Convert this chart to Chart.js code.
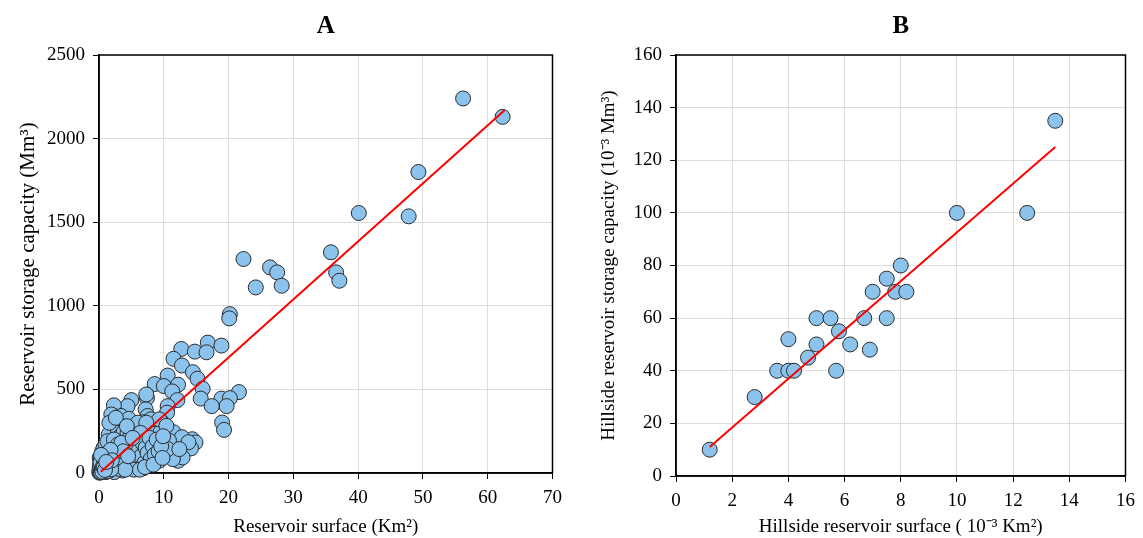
<!DOCTYPE html>
<html>
<head>
<meta charset="utf-8">
<script src="https://cdn.jsdelivr.net/npm/chart.js@4"></script>
<style>
  body { margin: 0; background: #fff; width: 1143px; height: 538px; position: relative; overflow: hidden; }
  canvas { position: absolute; top: 0; }
  #chartA { left: 0; }
  #chartB { left: 580px; }
</style>
</head>
<body>
<canvas id="chartA" width="570" height="538"></canvas>
<canvas id="chartB" width="563" height="538"></canvas>
<script>
// Panel A : reservoirs (surface Km², capacity Mm³)
const surfaceA = [
  56.2, 62.3, 49.3, 40.1, 47.8, 35.8, 36.6, 37.1, 22.3, 26.4, 27.5, 24.2, 28.2, 20.2, 20.1,
  16.8, 18.9, 12.7, 14.8, 16.6, 11.5, 12.8, 14.5, 15.2, 10.6, 16.0, 15.7, 21.6, 18.9, 20.2,
  19.7, 17.4, 8.6, 10.0, 12.2, 11.3, 12.1, 7.4, 5.0, 4.4, 2.3, 10.6, 10.5, 7.2, 7.5,
  3.4, 19.0, 19.3, 14.4, 14.9, 14.2, 12.2, 12.5, 6.8, 9.5, 2.1, 3.6, 4.6, 5.9, 6.9,
  8.5, 9.7, 10.3, 11.5, 12.8, 13.8, 11.0, 6.7, 8.2, 9.5, 5.6, 7.7, 9.0, 10.8, 12.9,
  11.4, 9.3, 5.2, 3.4, 10.6, 12.4, 7.3, 8.0, 9.3, 10.4, 6.0, 7.3,
  0.1, 0.2, 0.3, 0.4, 0.5, 0.6, 0.7, 0.8, 0.9, 0.2, 0.4, 0.6, 0.8, 1.0, 0.3, 0.5, 0.7, 0.9, 0.15, 0.35,
  1.1, 1.2, 1.3, 1.4, 1.5, 1.6, 1.7, 1.8, 1.9, 1.2, 1.4, 1.6, 1.8, 2.0, 1.1, 1.5, 1.3, 1.7,
  2.1, 2.2, 2.3, 2.4, 2.5, 2.6, 2.7, 2.8, 2.9, 3.0, 2.2, 2.5, 2.8, 2.4,
  3.1, 3.2, 3.3, 3.4, 3.5, 3.6, 3.7, 3.8, 3.9, 4.0, 3.3, 3.6,
  4.1, 4.2, 4.3, 4.4, 4.5, 4.6, 4.7, 4.8, 4.9, 5.0,
  5.1, 5.3, 5.5, 5.6, 5.8, 6.0, 5.4, 5.9,
  6.2, 6.4, 6.5, 6.7, 7.0, 7.2, 7.5, 7.8, 8.0, 6.3, 7.1,
  8.3, 8.6, 8.9, 9.2, 9.6, 9.9, 8.4, 9.8,
  1.9, 1.6, 2.6, 4.3,
  0.05, 0.1, 0.12, 0.25, 0.3, 0.45, 0.55, 0.65, 0.75, 0.85, 0.95, 0.1, 0.2, 0.4, 0.6, 0.5, 0.3, 0.7,
  1.05, 1.15, 1.25, 1.35, 1.45, 1.55, 1.65, 1.75, 1.0, 1.2, 1.4, 1.1, 1.3,
  2.05, 2.15, 2.35, 2.45, 2.65, 2.75, 2.0, 2.3, 2.9, 3.05, 3.25, 3.45, 3.75, 4.05, 4.5, 5.2,
  0.08, 0.18, 0.28, 0.38, 0.48, 0.58, 0.68, 0.78, 0.88, 0.98, 0.22, 0.42, 0.62, 0.82, 1.02,
  1.08, 1.18, 1.28, 1.38, 1.48, 1.58, 1.68, 1.78, 1.88, 1.98, 0.32, 0.52, 0.72, 0.92, 1.12
];
const capacityA = [
  2240, 2130, 1800, 1555, 1535, 1320, 1200, 1150, 1280, 1230, 1200, 1110, 1120, 950, 925,
  780, 762, 742, 726, 722, 683, 643, 603, 564, 583, 504, 445, 484, 445, 448,
  400, 400, 532, 520, 528, 488, 436, 448, 436, 400, 405, 400, 361, 381, 341,
  341, 302, 258, 202, 183, 147, 73, 186, 28, 103, 344, 304, 324, 284, 304,
  294, 304, 264, 244, 214, 184, 164, 234, 234, 244, 244, 184, 194, 194, 93,
  83, 73, 24, 24, 143, 143, 470, 321, 321, 282, 301, 301,
  5, 12, 20, 8, 30, 15, 45, 25, 60, 40, 55, 80, 100, 10, 70, 95, 120, 35, 28, 48,
  50, 90, 140, 20, 70, 110, 160, 40, 200, 180, 125, 55, 85, 150, 15, 230, 105, 30,
  60, 120, 175, 30, 95, 210, 140, 50, 240, 110, 15, 160, 190, 80,
  70, 150, 220, 40, 125, 185, 90, 245, 160, 60, 105, 15,
  130, 200, 85, 240, 170, 45, 110, 215, 150, 75,
  190, 125, 230, 95, 160, 50, 20, 205,
  140, 240, 100, 180, 60, 150, 120, 210, 85, 20, 35,
  160, 110, 200, 130, 160, 220, 50, 90,
  350, 300, 330, 280,
  2, 18, 35, 3, 55, 22, 65, 10, 38, 75, 20, 90, 60, 110, 30, 130, 85, 150,
  5, 70, 30, 95, 45, 135, 80, 120, 170, 60, 25, 115, 190,
  40, 90, 5, 145, 70, 110, 30, 200, 170, 25, 95, 180, 130, 20, 100, 210,
  14, 42, 6, 68, 32, 88, 16, 52, 104, 26, 62, 24, 38, 72, 44,
  82, 36, 64, 118, 12, 98, 58, 138, 22, 76, 108, 8, 34, 18, 66
];
const fitA_x = [0.3, 62.6];
const fitA_y = [8, 2170];

// Panel B : hillside reservoirs (10⁻³ Km², 10⁻³ Mm³)
const surfaceB = [1.2, 2.8, 3.6, 4.0, 4.2, 4.0, 4.7, 5.0, 5.0, 5.5, 5.8, 5.7, 6.2, 6.9, 6.7, 7.0, 7.5, 7.5, 7.8, 8.0, 8.2, 10.0, 12.5, 13.5];
const capacityB = [10, 30, 40, 40, 40, 52, 45, 50, 60, 60, 55, 40, 50, 48, 60, 70, 60, 75, 70, 80, 70, 100, 100, 135];
const fitB_x = [1.2, 13.5];
const fitB_y = [11, 125];

const serif = 'Liberation Serif, Times New Roman, serif';
const pointFill = '#8CC3EC';
const pointEdge = '#2a2a2a';

// black frame round the plot area + panel letter centred over it
const framePlugin = {
  id: 'frame',
  beforeDatasetsDraw(chart) {
    const a = chart.chartArea, c = chart.ctx;
    c.save();
    c.strokeStyle = '#000';
    c.lineWidth = 1.5;
    c.strokeRect(a.left, a.top, a.right - a.left, a.bottom - a.top);
    c.restore();
  },
  afterDraw(chart, args, opts) {
    const a = chart.chartArea, c = chart.ctx;
    c.save();
    c.fillStyle = '#000';
    c.font = 'bold 25px ' + serif;
    c.textAlign = 'center';
    c.textBaseline = 'middle';
    c.fillText(opts.letter, (a.left + a.right) / 2, 27);
    c.restore();
  }
};

function pairs(xs, ys) {
  return xs.map((x, i) => ({ x: x, y: ys[i] }));
}

function axis(min, max, step, title, titleSize, titlePad, size) {
  return {
    type: 'linear', min: min, max: max,
    ticks: {
      stepSize: step, color: '#000', font: { family: serif, size: 19 }, padding: 8,
      callback: v => String(v)
    },
    grid: { color: '#dcdcdc', lineWidth: 1, tickColor: '#000', tickLength: 6 },
    border: { color: '#000', width: 1.5 },
    title: { display: true, text: title, color: '#000', font: { family: serif, size: titleSize }, padding: titlePad },
    afterFit: size
  };
}

function makeChart(id, letter, xs, ys, fx, fy, xAxis, yAxis, padRight) {
  return new Chart(document.getElementById(id), {
    type: 'scatter',
    data: {
      datasets: [
        {
          type: 'line', data: pairs(fx, fy), borderColor: '#ff0000', borderWidth: 2,
          pointRadius: 0, fill: false, order: 0, clip: false
        },
        {
          data: pairs(xs, ys), backgroundColor: pointFill, borderColor: pointEdge,
          borderWidth: 1, pointRadius: 7.5, order: 1, clip: false
        }
      ]
    },
    options: {
      responsive: false,
      animation: false,
      layout: { padding: { left: 0, right: padRight, top: 55, bottom: 0 } },
      plugins: {
        legend: { display: false },
        tooltip: { enabled: false },
        title: { display: false },
        frame: { letter: letter }
      },
      scales: { x: xAxis, y: yAxis }
    },
    plugins: [framePlugin]
  });
}

makeChart('chartA', 'A', surfaceA, capacityA, fitA_x, fitA_y,
  axis(0, 70, 10, 'Reservoir surface (Km²)', 19, { top: 0, bottom: 0 }, s => { s.height = 65; }),
  axis(0, 2500, 500, 'Reservoir storage capacity (Mm³)', 21, { top: 16, bottom: 0 }, s => { s.width = 99; }),
  17);

makeChart('chartB', 'B', surfaceB, capacityB, fitB_x, fitB_y,
  axis(0, 16, 2, 'Hillside reservoir surface ( 10⁻³ Km²)', 19, { top: 0, bottom: 0 }, s => { s.height = 62; }),
  axis(0, 160, 20, 'Hillside reservoir storage capacity (10⁻³ Mm³)', 19, { top: 18, bottom: 0 }, s => { s.width = 96; }),
  14);
</script>
</body>
</html>
